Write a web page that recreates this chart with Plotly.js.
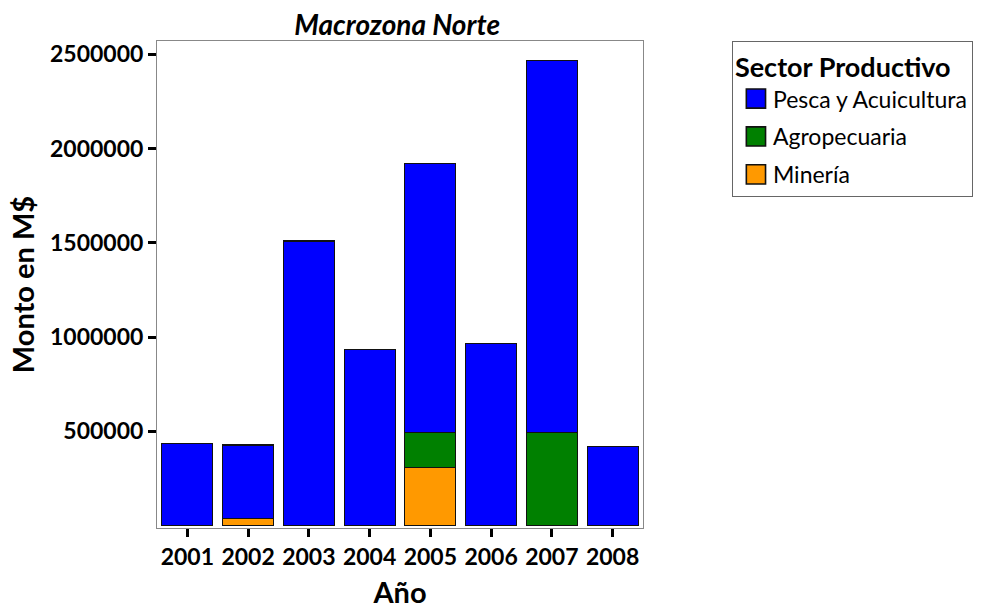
<!DOCTYPE html>
<html>
<head>
<meta charset="utf-8">
<script src="https://cdn.plot.ly/plotly-3.0.1.min.js"></script>
<style>html,body{margin:0;padding:0;background:#fff;}#chart{width:993px;height:611px;}</style>
</head>
<body>
<div id="chart"></div>
<script>
var years = ["2001","2002","2003","2004","2005","2006","2007","2008"];
var pesca = [436600, 388000, 1509500, 935500, 1423900, 965100, 1969900, 419100];
var agro = [null, null, null, null, 186600, null, 494700, null];
var mineria = [null, 40000, null, null, 308100, null, null, null];
var tickVals = [500000, 1000000, 1500000, 2000000, 2500000];
var tickText = ["500000", "1000000", "1500000", "2000000", "2500000"];

var F = "Lato, 'Open Sans', sans-serif";
var line = {color: "#111", width: 1.2};
var traces = [
  {type: "bar", name: "Minería", legendgroup: "c", legendrank: 3, x: years, y: mineria, marker: {color: "#FF9900", line: line}},
  {type: "bar", name: "Agropecuaria", legendgroup: "b", legendrank: 2, x: years, y: agro, marker: {color: "#008000", line: line}},
  {type: "bar", name: "Pesca y Acuicultura", legendgroup: "a", legendrank: 1, x: years, y: pesca, marker: {color: "#0000FF", line: line}}
];
var layout = {
  width: 993, height: 611,
  margin: {l: 157, r: 350, t: 41, b: 83},
  paper_bgcolor: "#fff", plot_bgcolor: "#fff",
  barmode: "stack", bargap: 0.16,
  font: {family: F, color: "#000"},
  title: {text: "<b><i>Macrozona Norte</i></b>", font: {size: 28, family: F}, x: 0.4, xanchor: "center", y: 0.958, yanchor: "middle"},
  xaxis: {
    type: "category", range: [-0.5, 7.5],
    showline: true, linecolor: "#888", linewidth: 1, mirror: true,
    ticks: "outside", ticklen: 8, tickwidth: 3, tickcolor: "#000",
    tickfont: {size: 23, family: F},
    tickprefix: "<b>", ticksuffix: "</b>",
    title: {text: "<b>Año</b>", font: {size: 29, family: F}, standoff: 14},
    showgrid: false, zeroline: false, automargin: false
  },
  yaxis: {
    range: [-12000, 2570000],
    tickvals: tickVals, ticktext: tickText.map(function(t){return "<b>"+t+"</b>";}),
    showline: true, linecolor: "#888", linewidth: 1, mirror: true,
    ticks: "outside", ticklen: 8, tickwidth: 3, tickcolor: "#000",
    tickfont: {size: 23, family: F},
    title: {text: "<b>Monto en M$</b>", font: {size: 29, family: F}, standoff: 6},
    showgrid: false, zeroline: false, automargin: false
  },
  showlegend: true,
  legend: {
    x: 1.183, xanchor: "left", y: 1, yanchor: "top",
    traceorder: "grouped", tracegroupgap: 5,
    bordercolor: "#666", borderwidth: 1, bgcolor: "#fff",
    font: {size: 23, family: F},
    title: {text: "<b>Sector Productivo</b>", font: {size: 27, family: F}, side: "top"},
    itemwidth: 30
  }
};
Plotly.newPlot("chart", traces, layout, {displayModeBar: false, staticPlot: true}).then(function(gd){
  var pts = gd.querySelectorAll(".legendpoints path");
  pts.forEach(function(p){
    var t = p.getAttribute("transform") || "";
    p.setAttribute("transform", "translate(3,0) " + t + " scale(1.6)");
    p.style.strokeWidth = "1px";
  });
});
</script>
</body>
</html>
